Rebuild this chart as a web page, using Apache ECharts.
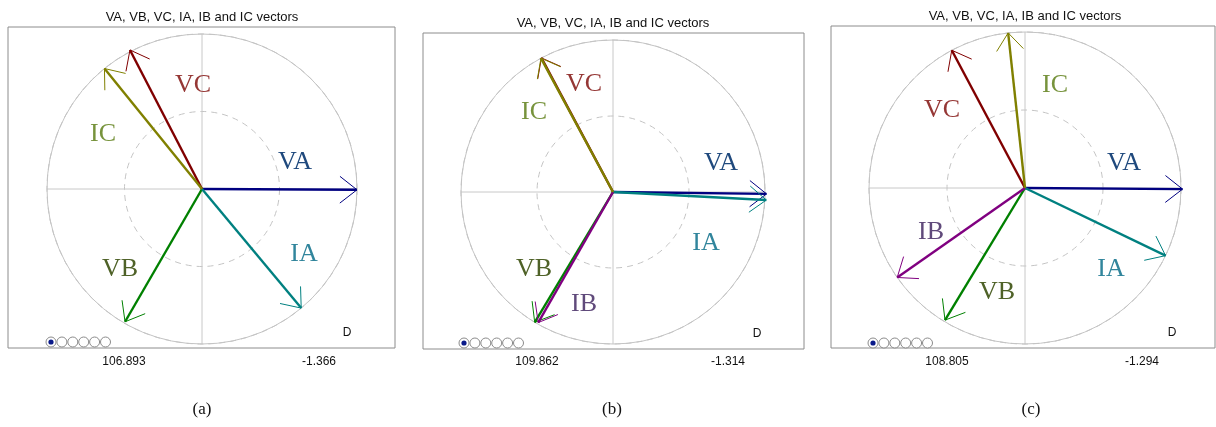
<!DOCTYPE html>
<html>
<head>
<meta charset="utf-8">
<script src="https://cdn.jsdelivr.net/npm/echarts@6/dist/echarts.min.js"></script>
<style>
    html, body { margin: 0; padding: 0; background: #fff; }
    #main { width: 1216px; height: 427px; }
</style>
</head>
<body>
<div id="main"></div>
<script>
// phasor names, one row per panel (a), (b), (c)
var names = ['VA', 'VB', 'VC', 'IA', 'IB', 'IC'];
var panelTags = ['(a)', '(b)', '(c)'];
var titleText = 'VA, VB, VC, IA, IB and IC vectors';
// magnitude relative to outer circle, null = not shown
var magA = [1.00, 0.99, 1.01, 1.00, null, 1.00];
var magB = [1.01, 1.00, 1.00, 1.01, 0.99, 1.00];
var magC = [1.01, 0.99, 1.00, 1.00, 1.00, 1.00];
// angle in degrees (counter clockwise from +x)
var angA = [-0.3, -120.1, 117.4, -50.2, null, 129.0];
var angB = [-0.7, -121.0, 118.1, -3.0, -119.8, 118.3];
var angC = [-0.4, -121.2, 118.0, -25.7, -145.0, 96.2];
var leftValues = ['106.893', '109.862', '108.805'];
var rightValues = ['-1.366', '-1.314', '-1.294'];

var lineColors = ['#000080', '#008000', '#800000', '#008080', '#800080', '#808000'];
var labelColors = ['#1F497D', '#4F6228', '#953735', '#31859C', '#604A7B', '#77933C'];

// layout of each panel (pixels)
var panels = [
    {box: [8, 27, 395, 348], cx: 202, cy: 189, r: 155, titleY: 17, valY: 362, d: [347, 333], radio: [51, 342], capX: 202,
        labels: {VA: [295, 162], VB: [120, 269], VC: [193, 85], IA: [304, 254], IC: [103, 134]}},
    {box: [423, 33, 804, 349], cx: 613, cy: 192, r: 152, titleY: 23, valY: 362, d: [757, 334], radio: [464, 343], capX: 612,
        labels: {VA: [721, 163], VB: [534, 269], VC: [584, 84], IA: [706, 243], IB: [584, 304], IC: [534, 112]}},
    {box: [831, 26, 1215, 348], cx: 1025, cy: 188, r: 156, titleY: 16, valY: 362, d: [1172, 333], radio: [873, 343], capX: 1031,
        labels: {VA: [1124, 163], VB: [997, 292], VC: [942, 110], IA: [1111, 269], IB: [931, 232], IC: [1055, 85]}}
];
var valueX = [[124, 319], [537, 728], [947, 1142]];

var mags = [magA, magB, magC];
var angs = [angA, angB, angC];

var chart = echarts.init(document.getElementById('main'));

var grid = [], xAxis = [], yAxis = [], polar = [], angleAxis = [], radiusAxis = [], series = [], graphic = [];
var barbLen = 0.14, barbAng = 38;
var sansFont = '"Liberation Sans", Arial, sans-serif';
var serifFont = '"Liberation Serif", "Times New Roman", serif';

panels.forEach(function (p, i) {
    var b = p.box;
    grid.push({
        left: b[0], top: b[1], width: b[2] - b[0], height: b[3] - b[1],
        outerBoundsMode: 'none', containLabel: false,
        show: true, borderColor: '#8c8c8c', borderWidth: 1, backgroundColor: 'transparent'
    });
    xAxis.push({type: 'value', gridIndex: i, min: (b[0] - p.cx) / p.r, max: (b[2] - p.cx) / p.r, show: false});
    yAxis.push({type: 'value', gridIndex: i, min: -(b[3] - p.cy) / p.r, max: (p.cy - b[1]) / p.r, show: false});

    polar.push({center: [p.cx, p.cy], radius: p.r});
    angleAxis.push({
        polarIndex: i, type: 'value', min: 0, max: 360, interval: 90, startAngle: 0,
        axisLine: {lineStyle: {color: '#c4c4c4', width: 1}},
        axisTick: {show: false}, axisLabel: {show: false},
        splitLine: {show: true, lineStyle: {color: '#c8c8c8', width: 1}}
    });
    radiusAxis.push({
        polarIndex: i, type: 'value', min: 0, max: 1, interval: 0.5,
        axisLine: {show: false}, axisTick: {show: false}, axisLabel: {show: false},
        splitLine: {show: true, lineStyle: {color: '#c4c4c4', width: 1, type: [6, 5]}}
    });

    names.forEach(function (n, k) {
        var m = mags[i][k], a = angs[i][k];
        if (m == null) return;
        var t = a * Math.PI / 180;
        var tip = [m * Math.cos(t), m * Math.sin(t)];
        var b1 = (a + 180 - barbAng) * Math.PI / 180;
        var b2 = (a + 180 + barbAng) * Math.PI / 180;
        series.push({
            name: n, type: 'line', xAxisIndex: i, yAxisIndex: i, symbol: 'none', silent: true,
            lineStyle: {color: lineColors[k], width: 2.4},
            data: [[0, 0], tip]
        });
        series.push({
            name: n, type: 'line', xAxisIndex: i, yAxisIndex: i, symbol: 'none', silent: true,
            lineStyle: {color: lineColors[k], width: 1},
            data: [[tip[0] + barbLen * Math.cos(b1), tip[1] + barbLen * Math.sin(b1)], tip,
                [tip[0] + barbLen * Math.cos(b2), tip[1] + barbLen * Math.sin(b2)]]
        });
        var lp = p.labels[n];
        if (lp) {
            graphic.push({type: 'text', x: lp[0], y: lp[1], z: 10, style: {
                text: n, fill: labelColors[k], font: '26px ' + serifFont,
                align: 'center', verticalAlign: 'middle'}});
        }
    });

    graphic.push({type: 'text', x: p.cx, y: p.titleY, style: {
        text: titleText, fill: '#111', font: '13px ' + sansFont,
        align: 'center', verticalAlign: 'middle'}});
    graphic.push({type: 'text', x: valueX[i][0], y: p.valY, style: {
        text: leftValues[i], fill: '#111', font: '12px ' + sansFont,
        align: 'center', verticalAlign: 'middle'}});
    graphic.push({type: 'text', x: valueX[i][1], y: p.valY, style: {
        text: rightValues[i], fill: '#111', font: '12px ' + sansFont,
        align: 'center', verticalAlign: 'middle'}});
    graphic.push({type: 'text', x: p.d[0], y: p.d[1], style: {
        text: 'D', fill: '#111', font: '12px ' + sansFont,
        align: 'center', verticalAlign: 'middle'}});
    graphic.push({type: 'text', x: p.capX, y: 410, style: {
        text: panelTags[i], fill: '#111', font: '17px ' + serifFont,
        align: 'center', verticalAlign: 'middle'}});
    // radio buttons
    for (var j = 0; j < 6; j++) {
        graphic.push({type: 'circle', z: 10, shape: {cx: p.radio[0] + j * 10.9, cy: p.radio[1], r: 5},
            style: {fill: '#fff', stroke: '#8a8a8a', lineWidth: 1}});
    }
    graphic.push({type: 'circle', z: 11, shape: {cx: p.radio[0], cy: p.radio[1], r: 2.6},
        style: {fill: '#0a1a8a'}});
});

var option = {
    animation: false,
    grid: grid,
    xAxis: xAxis,
    yAxis: yAxis,
    polar: polar,
    angleAxis: angleAxis,
    radiusAxis: radiusAxis,
    series: series,
    graphic: graphic
};
chart.setOption(option);
window.addEventListener('resize', function () {
    chart.resize();
});
</script>
</body>
</html>
